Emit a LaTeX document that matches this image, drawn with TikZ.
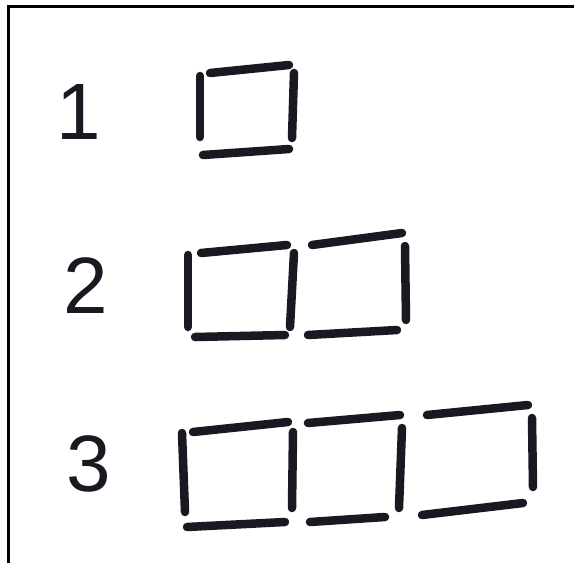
\documentclass[tikz,border=0pt]{standalone}
\usepackage{fontspec}
\setsansfont{Liberation Sans}
\definecolor{ink}{RGB}{28,24,34}
\usetikzlibrary{positioning}
\tikzset{
  stick/.style={line width=8.5pt,line cap=round,draw=ink},
  frame/.style={line width=3pt,draw=black},
  num/.style={inner sep=0pt,text=ink,font=\sffamily\fontsize{80}{80}\selectfont},
}

\begin{document}
\begin{tikzpicture}[x=1pt,y=-1pt]
  \useasboundingbox (0,0) rectangle (574,563);
  \draw[frame] (574,6) -- (8.5,6) -- (8.5,563);

  % step numbers
  \node[num] (n1) at (78.5,111.5) {1};
  \node[num] (n2) at (86,286) {2};
  \node[num] (n3) at (89,464) {3};

  % one square
  \draw[stick] (210,73) -- (289,65);
  \draw[stick] (200,76) -- (200,137);
  \draw[stick] (294,73) -- (292,138);
  \draw[stick] (203,155) -- (289,149);

  % two squares
  \draw[stick] (188,255) -- (188,327);
  \draw[stick] (201,253) -- (287,245);
  \draw[stick] (195,337) -- (285,335);
  \draw[stick] (294,253) -- (290,327);
  \draw[stick] (312,245) -- (402,233);
  \draw[stick] (308,335) -- (397,330);
  \draw[stick] (405,246) -- (406,320);

  % three squares
  \draw[stick] (182,433) -- (185,512);
  \draw[stick] (193,432) -- (288,422);
  \draw[stick] (187,527) -- (285,522);
  \draw[stick] (293,432) -- (292,508);
  \draw[stick] (308,423) -- (400,415);
  \draw[stick] (310,522) -- (385,517);
  \draw[stick] (402,428) -- (399,508);
  \draw[stick] (427,415) -- (528,405);
  \draw[stick] (422,515) -- (523,503);
  \draw[stick] (532,418) -- (533,487);
\end{tikzpicture}
\end{document}
